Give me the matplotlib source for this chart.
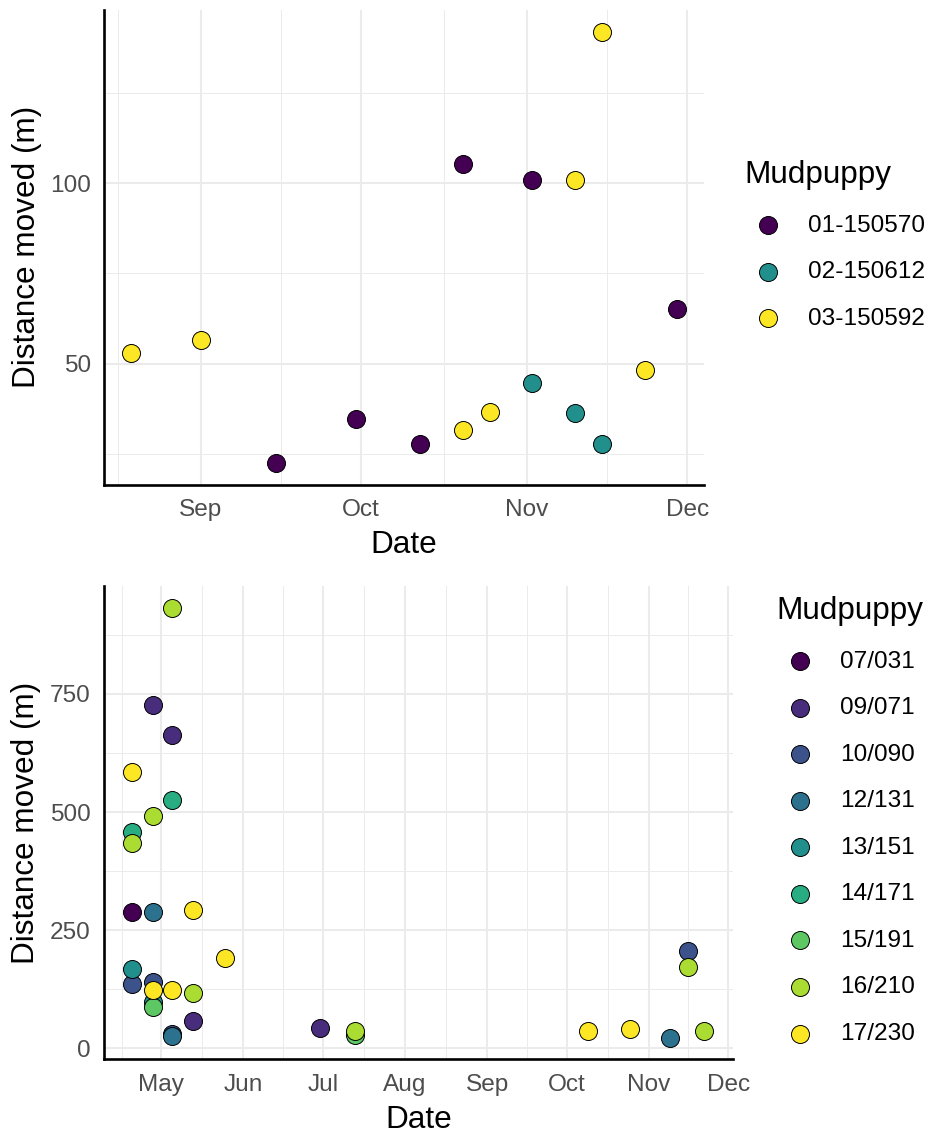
import numpy as np
import pandas as pd
import matplotlib
matplotlib.use("Agg")
import matplotlib.pyplot as plt
import matplotlib.dates as mdates
from matplotlib.ticker import MultipleLocator, FixedLocator

plt.rcParams['font.family'] = ['Liberation Sans', 'DejaVu Sans']

# ---------------- Top panel data ----------------
top_ids = ["01-150570", "02-150612", "03-150592"]
top_colors = ["#440154", "#21908C", "#FDE725"]
top_dates = [
    ["2015-09-15", "2015-09-30", "2015-10-12", "2015-10-20", "2015-11-02", "2015-11-29"],
    ["2015-11-02", "2015-11-10", "2015-11-15"],
    ["2015-08-19", "2015-09-01", "2015-10-20", "2015-10-25", "2015-11-10", "2015-11-15", "2015-11-23"],
]
top_dist = [
    [22.5, 34.6, 27.7, 105.2, 100.9, 65.2],
    [44.6, 36.4, 27.7],
    [53.0, 56.5, 31.7, 36.7, 101.0, 142.0, 48.3],
]

# ---------------- Bottom panel data ----------------
bot_ids = ["07/031", "09/071", "10/090", "12/131", "13/151", "14/171", "15/191", "16/210", "17/230"]
bot_colors = ["#440154", "#472D7B", "#3B528B", "#2C728E", "#21908C",
              "#27AD81", "#5DC863", "#AADC32", "#FDE725"]
bot_dates = [
    ["2016-04-20"],
    ["2016-04-28", "2016-05-05", "2016-05-13", "2016-06-30"],
    ["2016-04-20", "2016-04-28", "2016-05-05", "2016-11-16"],
    ["2016-04-28", "2016-05-05", "2016-11-09"],
    ["2016-04-20", "2016-04-28"],
    ["2016-04-20", "2016-05-05"],
    ["2016-04-28", "2016-07-13"],
    ["2016-04-20", "2016-04-28", "2016-05-05", "2016-05-13", "2016-07-13", "2016-11-16", "2016-11-22"],
    ["2016-04-20", "2016-04-28", "2016-05-05", "2016-05-13", "2016-05-25", "2016-10-09", "2016-10-25"],
]
bot_dist = [
    [289],
    [727, 663, 58, 44],
    [136, 141, 30, 207],
    [289, 26, 23],
    [168, 99],
    [457, 526],
    [88, 29],
    [434, 492, 933, 117, 37, 172, 37],
    [584, 124, 124, 293, 191, 37, 40],
]

W, H = 930, 1133
fig = plt.figure(figsize=(W / 100, H / 100), dpi=100)


def px_axes(left, top, right, bottom):
    return fig.add_axes([left / W, 1 - bottom / H, (right - left) / W, (bottom - top) / H])


TICK_FS = 17.6
TITLE_FS = 22.7
GRID = "#EBEBEB"


def draw(ax, ids, colors, dates, dists, ymaj, ymin, leg_xy):
    xs_all, ys_all = [], []
    for i, (lab, col, ds, vs) in enumerate(zip(ids, colors, dates, dists)):
        x = mdates.date2num(pd.to_datetime(ds))
        xs_all.extend(x)
        ys_all.extend(vs)
        ax.scatter(x, vs, s=168, c=col, edgecolors="black", linewidths=0.7,
                   label=lab, zorder=3 + i * 0.01)
    xs_all = np.array(xs_all); ys_all = np.array(ys_all, dtype=float)
    xr = xs_all.max() - xs_all.min(); yr = ys_all.max() - ys_all.min()
    ax.set_xlim(xs_all.min() - 0.05 * xr, xs_all.max() + 0.05 * xr)
    ax.set_ylim(ys_all.min() - 0.05 * yr, ys_all.max() + 0.05 * yr)

    ax.xaxis.set_major_locator(mdates.MonthLocator())
    ax.xaxis.set_major_formatter(mdates.DateFormatter("%b"))
    lo, hi = ax.get_xlim()
    d_lo = mdates.num2date(lo).replace(tzinfo=None)
    d_hi = mdates.num2date(hi).replace(tzinfo=None)
    ms = pd.date_range(pd.Timestamp(d_lo.year, d_lo.month, 1) - pd.offsets.MonthBegin(1),
                       pd.Timestamp(d_hi.year, d_hi.month, 1) + pd.offsets.MonthBegin(2), freq="MS")
    mn = mdates.date2num(ms)
    ax.xaxis.set_minor_locator(FixedLocator((mn[:-1] + mn[1:]) / 2))
    ax.yaxis.set_major_locator(MultipleLocator(ymaj))
    ax.yaxis.set_minor_locator(MultipleLocator(ymin))

    ax.set_axisbelow(True)
    ax.grid(which="major", color=GRID, lw=1.5)
    ax.grid(which="minor", color=GRID, lw=0.7)
    for s in ["top", "right"]:
        ax.spines[s].set_visible(False)
    for s in ["left", "bottom"]:
        ax.spines[s].set_linewidth(1.9)
        ax.spines[s].set_color("black")
    ax.tick_params(which="both", length=0)
    ax.tick_params(axis="both", labelsize=TICK_FS, labelcolor="#4D4D4D")
    ax.tick_params(axis="x", pad=10.5)
    ax.tick_params(axis="y", pad=9.5)
    ax.set_xlabel("Date", fontsize=TITLE_FS, labelpad=6.5)
    ax.set_ylabel("Distance moved (m)", fontsize=TITLE_FS, labelpad=6)

    ax.legend(loc="upper left", bbox_to_anchor=leg_xy, bbox_transform=fig.transFigure,
              frameon=False, title="Mudpuppy", title_fontsize=TITLE_FS, fontsize=TICK_FS,
              alignment="left", borderpad=0, borderaxespad=0, handlelength=2.0,
              handletextpad=0.62, labelspacing=1.0, scatterpoints=1)


ax1 = px_axes(104, 10, 704, 484.5)
draw(ax1, top_ids, top_colors, top_dates, top_dist, 50, 25, (744 / W, 1 - 160 / H))

ax2 = px_axes(103.5, 586, 733, 1059)
draw(ax2, bot_ids, bot_colors, bot_dates, bot_dist, 250, 125, (776 / W, 1 - 596 / H))

fig.savefig("out.png", dpi=100)
